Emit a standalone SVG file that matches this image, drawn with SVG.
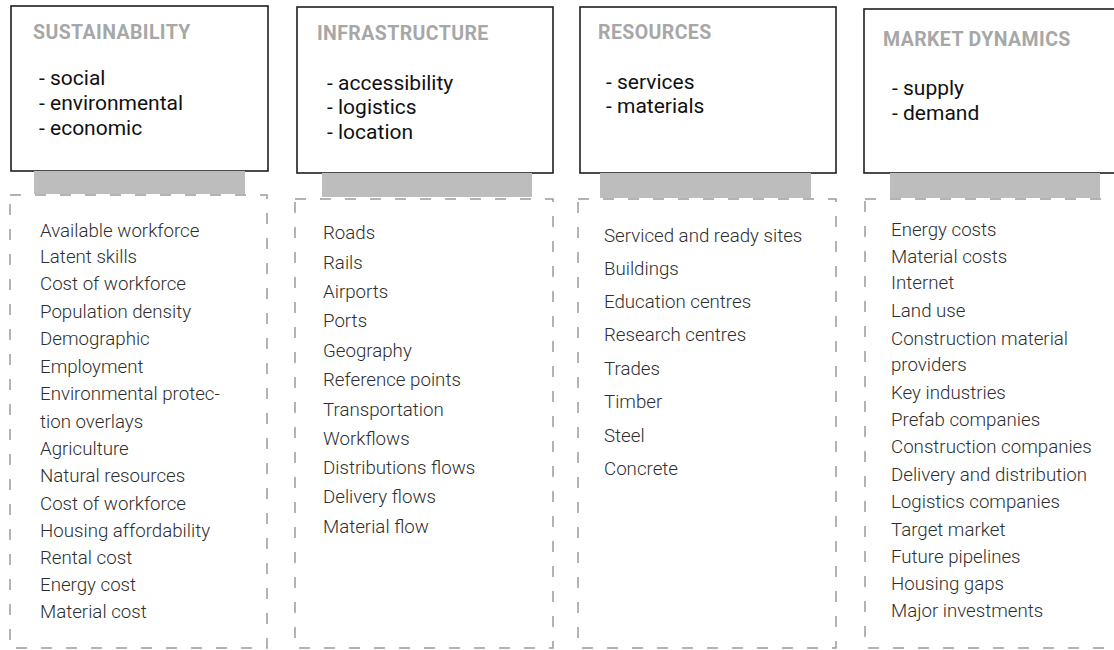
<svg xmlns="http://www.w3.org/2000/svg" width="1114" height="650" viewBox="0 0 1114 650">
  <style>
    .box { fill: #ffffff; stroke: #1e1e1e; stroke-width: 1.6; }
    .bar { fill: #bdbdbd; }
    .dash { fill: none; stroke: #9a9a9a; stroke-width: 1.5; stroke-dasharray: 11 14; }
    .title { font-family: Roboto, "Liberation Sans", sans-serif; font-weight: 700; font-size: 19.5px; letter-spacing: 0.4px; fill: #a7a7a7; }
    .sub { font-family: Roboto, "Liberation Sans", sans-serif; font-size: 21px; fill: #111111; }
    .item { font-family: Roboto, "Liberation Sans", sans-serif; font-size: 18.7px; fill: #2e2e2e; font-weight: 300; }
  </style>
  <rect width="1114" height="650" fill="#ffffff"/>

  <!-- column: sustainability -->
  <g id="sustainability">
    <rect class="box" x="11" y="6" width="257" height="165"/>
    <rect class="bar" x="34" y="171" width="211" height="23"/>
    <rect class="dash" x="10" y="195" width="257" height="453"/>
    <text class="title" x="33" y="39">SUSTAINABILITY</text>
    <text class="sub" x="39" y="85">- social</text>
    <text class="sub" x="39" y="110">- environmental</text>
    <text class="sub" x="39" y="135">- economic</text>
    <g class="item">
      <text x="40" y="237">Available workforce</text>
      <text x="40" y="263">Latent skills</text>
      <text x="40" y="290">Cost of workforce</text>
      <text x="40" y="318">Population density</text>
      <text x="40" y="345">Demographic</text>
      <text x="40" y="373">Employment</text>
      <text x="40" y="400">Environmental protec-</text>
      <text x="40" y="428">tion overlays</text>
      <text x="40" y="455">Agriculture</text>
      <text x="40" y="482">Natural resources</text>
      <text x="40" y="510">Cost of workforce</text>
      <text x="40" y="537">Housing affordability</text>
      <text x="40" y="564">Rental cost</text>
      <text x="40" y="591">Energy cost</text>
      <text x="40" y="618">Material cost</text>
    </g>
  </g>

  <!-- column: infrastructure -->
  <g id="infrastructure">
    <rect class="box" x="297" y="7" width="256" height="166"/>
    <rect class="bar" x="322" y="173" width="210" height="24"/>
    <rect class="dash" x="295" y="199" width="258" height="449"/>
    <text class="title" x="317" y="40">INFRASTRUCTURE</text>
    <text class="sub" x="327" y="90">- accessibility</text>
    <text class="sub" x="327" y="114">- logistics</text>
    <text class="sub" x="327" y="139">- location</text>
    <g class="item">
      <text x="323" y="239">Roads</text>
      <text x="323" y="269">Rails</text>
      <text x="323" y="298">Airports</text>
      <text x="323" y="327">Ports</text>
      <text x="323" y="357">Geography</text>
      <text x="323" y="386">Reference points</text>
      <text x="323" y="416">Transportation</text>
      <text x="323" y="445">Workflows</text>
      <text x="323" y="474">Distributions flows</text>
      <text x="323" y="503">Delivery flows</text>
      <text x="323" y="533">Material flow</text>
    </g>
  </g>

  <!-- column: resources -->
  <g id="resources">
    <rect class="box" x="580" y="7" width="256" height="166"/>
    <rect class="bar" x="600" y="173" width="211" height="25"/>
    <rect class="dash" x="578" y="199" width="258" height="449"/>
    <text class="title" x="598" y="39">RESOURCES</text>
    <text class="sub" x="606" y="89">- services</text>
    <text class="sub" x="606" y="113">- materials</text>
    <g class="item">
      <text x="604" y="242">Serviced and ready sites</text>
      <text x="604" y="275">Buildings</text>
      <text x="604" y="308">Education centres</text>
      <text x="604" y="341">Research centres</text>
      <text x="604" y="375">Trades</text>
      <text x="604" y="408">Timber</text>
      <text x="604" y="442">Steel</text>
      <text x="604" y="475">Concrete</text>
    </g>
  </g>

  <!-- column: market dynamics -->
  <g id="market-dynamics">
    <rect class="box" x="864" y="9" width="270" height="164"/>
    <rect class="bar" x="890" y="173" width="210" height="25"/>
    <rect class="dash" x="865" y="199" width="270" height="449"/>
    <text class="title" x="883" y="46">MARKET DYNAMICS</text>
    <text class="sub" x="892" y="95">- supply</text>
    <text class="sub" x="892" y="120">- demand</text>
    <g class="item">
      <text x="891" y="236">Energy costs</text>
      <text x="891" y="263">Material costs</text>
      <text x="891" y="289">Internet</text>
      <text x="891" y="317">Land use</text>
      <text x="891" y="345">Construction material</text>
      <text x="891" y="371">providers</text>
      <text x="891" y="399">Key industries</text>
      <text x="891" y="426">Prefab companies</text>
      <text x="891" y="453">Construction companies</text>
      <text x="891" y="481">Delivery and distribution</text>
      <text x="891" y="508">Logistics companies</text>
      <text x="891" y="536">Target market</text>
      <text x="891" y="563">Future pipelines</text>
      <text x="891" y="590">Housing gaps</text>
      <text x="891" y="617">Major investments</text>
    </g>
  </g>

  <!-- no connectors: the columns are linked only by their grey stems -->
  <g id="connectors"/>
</svg>
